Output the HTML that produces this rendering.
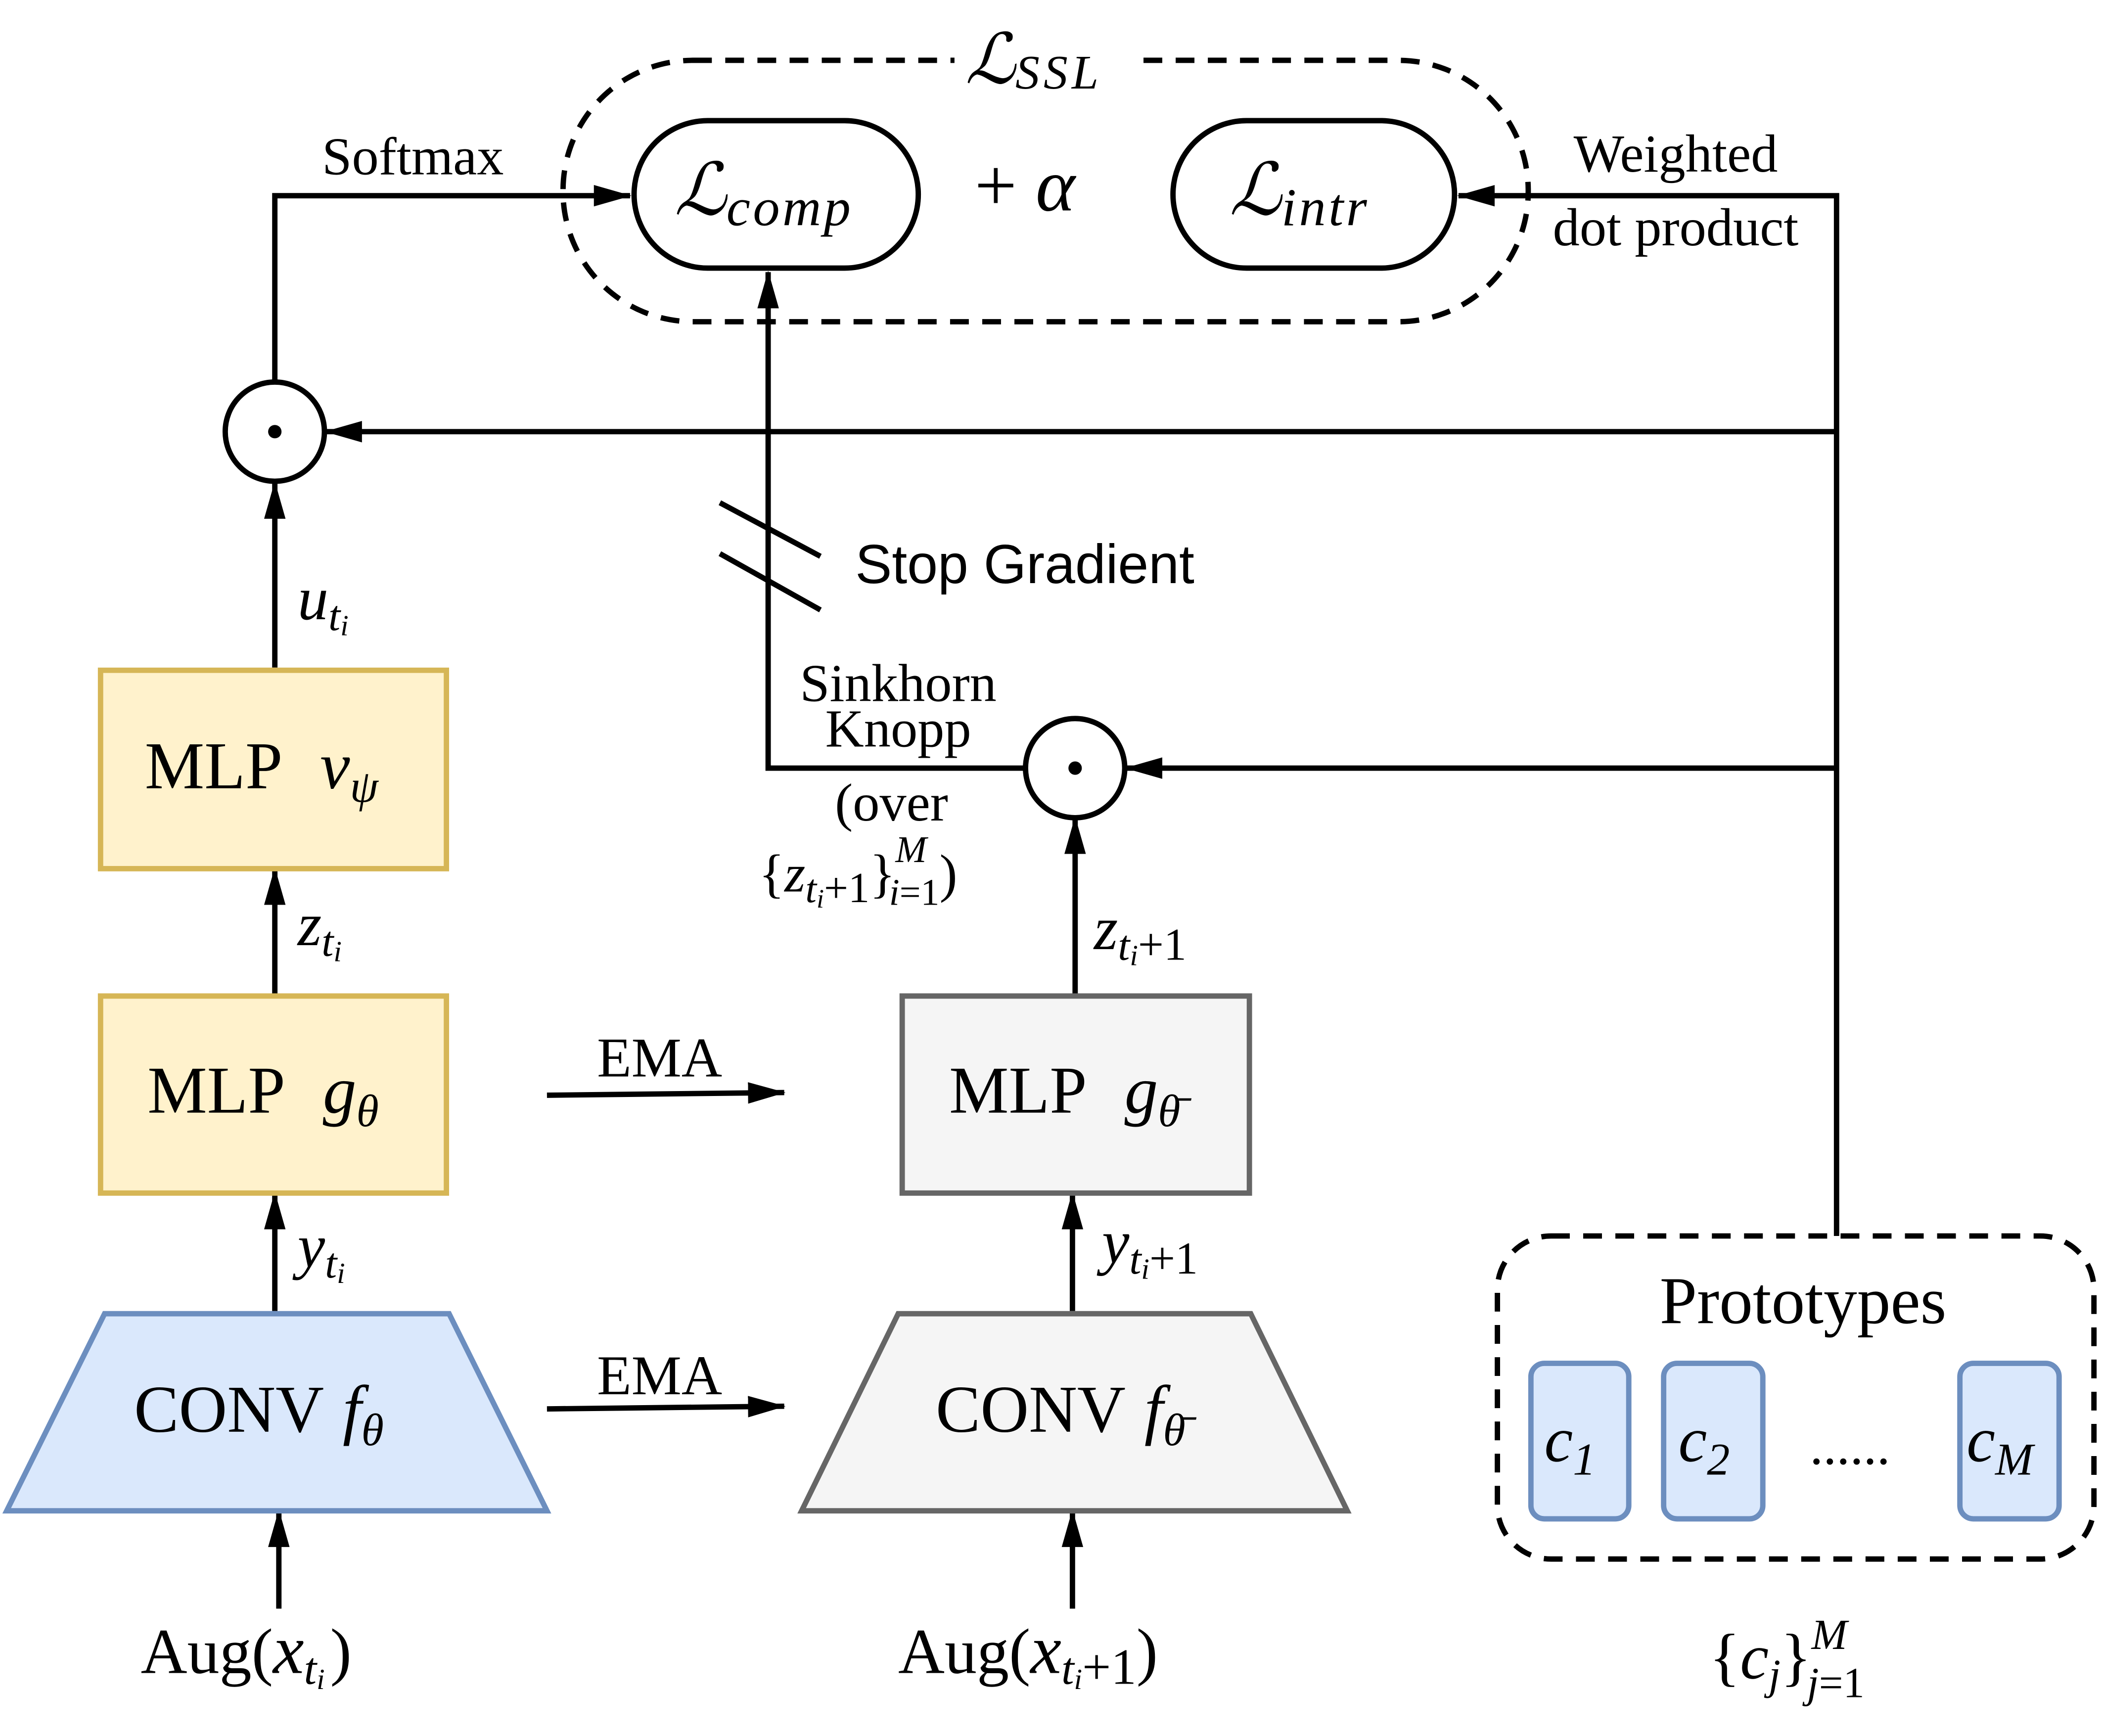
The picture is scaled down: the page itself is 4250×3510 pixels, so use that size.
<!DOCTYPE html>
<html><head><meta charset="utf-8"><style>
html,body{margin:0;padding:0;background:#fff;}
svg{display:block;}
text{font-family:"Liberation Serif","DejaVu Serif",serif;fill:#000;}
.i{font-style:italic;}
.s{font-family:"Liberation Sans","DejaVu Sans",sans-serif;}
</style></head><body>
<svg width="4250" height="3510" viewBox="0 0 1568 1295" xmlns="http://www.w3.org/2000/svg">
<defs>
<marker id="A" markerWidth="28" markerHeight="20" refX="27" refY="10" orient="auto" markerUnits="userSpaceOnUse" viewBox="0 0 28 20">
<path d="M0,2 L28,10 L0,18 z" fill="#000"/></marker>
</defs>
<g stroke="#000" stroke-width="4" fill="none">
<rect x="420" y="45" width="720" height="195" rx="97" stroke-dasharray="14,10"/>
<rect x="473" y="90" width="212" height="110" rx="55"/>
<rect x="875" y="90" width="210" height="110" rx="55"/>
<polyline points="205,285 205,146 470,146" marker-end="url(#A)"/>
<polyline points="1370,922 1370,146 1088,146" marker-end="url(#A)"/>
<line x1="1370" y1="322" x2="243" y2="322" marker-end="url(#A)"/>
<line x1="1370" y1="573" x2="840" y2="573" marker-end="url(#A)"/>
<circle cx="205" cy="322" r="37"/>
<circle cx="802" cy="573" r="37"/>
<line x1="205" y1="498" x2="205" y2="360" marker-end="url(#A)"/>
<line x1="205" y1="742" x2="205" y2="648" marker-end="url(#A)"/>
<line x1="205" y1="978" x2="205" y2="890" marker-end="url(#A)"/>
<line x1="208" y1="1200" x2="208" y2="1127" marker-end="url(#A)"/>
<line x1="408" y1="817" x2="585" y2="815" marker-end="url(#A)"/>
<line x1="408" y1="1051" x2="585" y2="1049" marker-end="url(#A)"/>
<line x1="800" y1="1200" x2="800" y2="1127" marker-end="url(#A)"/>
<line x1="800" y1="978" x2="800" y2="890" marker-end="url(#A)"/>
<line x1="802" y1="742" x2="802" y2="610" marker-end="url(#A)"/>
<polyline points="765,573 573,573 573,203" marker-end="url(#A)"/>
<line x1="537" y1="375" x2="612" y2="415"/>
<line x1="537" y1="413" x2="612" y2="455"/>
<rect x="1117" y="922" width="445" height="241" rx="40" stroke-dasharray="14,10"/>
</g>
<circle cx="205" cy="322" r="5"/>
<circle cx="802" cy="573" r="5"/>
<rect x="75" y="500" width="258" height="148" fill="#fff2cc" stroke="#d6b656" stroke-width="4"/>
<rect x="75" y="743" width="258" height="147" fill="#fff2cc" stroke="#d6b656" stroke-width="4"/>
<polygon points="5,1127 408,1127 335,980 78,980" fill="#dae8fc" stroke="#6c8ebf" stroke-width="4"/>
<rect x="673" y="743" width="259" height="147" fill="#f5f5f5" stroke="#666" stroke-width="4"/>
<polygon points="598,1127 1005,1127 933,980 670,980" fill="#f5f5f5" stroke="#666" stroke-width="4"/>
<g fill="#dae8fc" stroke="#6c8ebf" stroke-width="4">
<rect x="1142" y="1017" width="73" height="116" rx="10"/>
<rect x="1241" y="1017" width="74" height="116" rx="10"/>
<rect x="1462" y="1017" width="74" height="116" rx="10"/>
</g>
<rect x="712" y="20" width="140" height="50" fill="#fff"/>
<text x="720" y="62" font-size="52" class="i">ℒ<tspan font-size="36" dy="4" letter-spacing="3">SSL</tspan></text>
<text x="503" y="160" font-size="54" class="i">ℒ<tspan font-size="40" dy="8" letter-spacing="2">comp</tspan></text>
<text x="727" y="157" font-size="56">+ <tspan class="i">α</tspan></text>
<text x="917" y="160" font-size="54" class="i">ℒ<tspan font-size="40" dy="8" letter-spacing="2">intr</tspan></text>
<text x="308" y="130" font-size="40" text-anchor="middle">Softmax</text>
<text x="1250" y="128" font-size="40" text-anchor="middle">Weighted</text>
<text x="1250" y="183" font-size="40" text-anchor="middle">dot product</text>
<text x="638" y="435" font-size="41" class="s">Stop Gradient</text>
<text x="670" y="523" font-size="40" text-anchor="middle">Sinkhorn</text>
<text x="670" y="557" font-size="40" text-anchor="middle">Knopp</text>
<text x="665" y="612" font-size="40" text-anchor="middle">(over</text>
<text x="566" y="665" font-size="40">{<tspan class="i">z</tspan><tspan class="i" font-size="30" dy="8">t</tspan><tspan class="i" font-size="20" dy="4">i</tspan><tspan font-size="32" dy="-4">+1</tspan><tspan dy="-8">}</tspan><tspan class="i" font-size="28" dy="-22">M</tspan><tspan font-size="28" dx="-28" dy="32"><tspan class="i">i</tspan>=1</tspan><tspan dy="-10">)</tspan></text>
<text x="222" y="462" font-size="46" class="i">u<tspan font-size="32" dy="8">t</tspan><tspan font-size="22" dy="4">i</tspan></text>
<text x="222" y="705" font-size="46" class="i">z<tspan font-size="32" dy="8">t</tspan><tspan font-size="22" dy="4">i</tspan></text>
<text x="222" y="945" font-size="46" class="i">y<tspan font-size="32" dy="8">t</tspan><tspan font-size="22" dy="4">i</tspan></text>
<text x="816" y="708" font-size="46" class="i">z<tspan font-size="32" dy="8">t</tspan><tspan font-size="22" dy="4">i</tspan><tspan font-style="normal" font-size="34" dy="-4">+1</tspan></text>
<text x="822" y="942" font-size="46" class="i">y<tspan font-size="32" dy="8">t</tspan><tspan font-size="22" dy="4">i</tspan><tspan font-style="normal" font-size="34" dy="-4">+1</tspan></text>
<text x="108" y="588" font-size="50">MLP<tspan class="i" dx="28">v</tspan><tspan class="i" font-size="34" dy="10">ψ</tspan></text>
<text x="110" y="830" font-size="50">MLP<tspan class="i" dx="28">g</tspan><tspan class="i" font-size="34" dy="10">θ</tspan></text>
<text x="100" y="1068" font-size="50">CONV<tspan class="i" dx="14">f</tspan><tspan class="i" font-size="34" dy="10">θ</tspan></text>
<text x="708" y="830" font-size="50" fill="#333">MLP<tspan class="i" dx="28">g</tspan><tspan class="i" font-size="34" dy="10">θ̄</tspan></text>
<text x="698" y="1068" font-size="50" fill="#333">CONV<tspan class="i" dx="14">f</tspan><tspan class="i" font-size="34" dy="10">θ̄</tspan></text>
<text x="492" y="803" font-size="42" text-anchor="middle">EMA</text>
<text x="492" y="1040" font-size="42" text-anchor="middle">EMA</text>
<text x="105" y="1248" font-size="48">Aug(<tspan class="i" font-size="52">x</tspan><tspan class="i" font-size="34" dy="8">t</tspan><tspan class="i" font-size="22" dy="4">i</tspan><tspan dy="-12" dx="4">)</tspan></text>
<text x="670" y="1248" font-size="48">Aug(<tspan class="i" font-size="52">x</tspan><tspan class="i" font-size="34" dy="8">t</tspan><tspan class="i" font-size="22" dy="4">i</tspan><tspan font-size="38" dy="-4">+1</tspan><tspan dy="-8">)</tspan></text>
<text x="1345" y="987" font-size="50" text-anchor="middle">Prototypes</text>
<text x="1152" y="1090" font-size="48" class="i">c<tspan font-size="34" dy="10">1</tspan></text>
<text x="1252" y="1090" font-size="48" class="i">c<tspan font-size="34" dy="10">2</tspan></text>
<text x="1467" y="1090" font-size="48" class="i">c<tspan font-size="34" dy="10">M</tspan></text>
<text x="1380" y="1092" font-size="40" text-anchor="middle">......</text>
<text x="1275" y="1252" font-size="48">{<tspan class="i">c</tspan><tspan class="i" font-size="32" dy="8">j</tspan><tspan dy="-8">}</tspan><tspan class="i" font-size="32" dy="-22">M</tspan><tspan font-size="32" dx="-30" dy="36"><tspan class="i">j</tspan>=1</tspan></text>
</svg>
</body></html>
